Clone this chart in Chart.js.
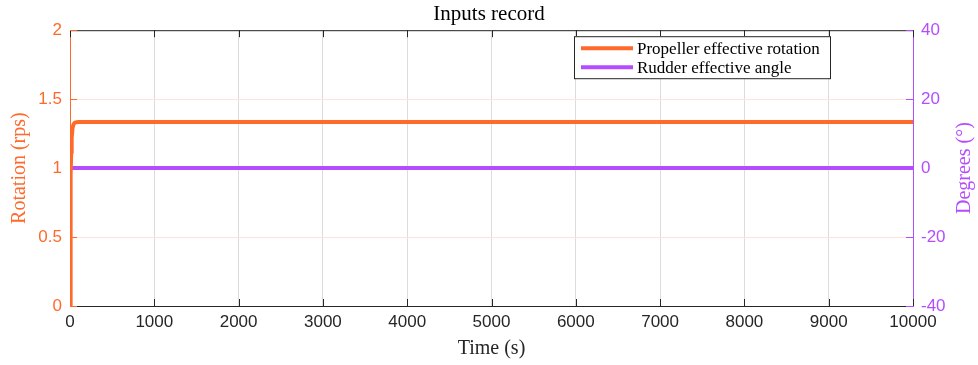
<!DOCTYPE html>
<html>
<head>
<meta charset="utf-8">
<script src="https://cdn.jsdelivr.net/npm/chart.js@4"></script>
<style>
  html, body { margin: 0; padding: 0; background: #fff; }
  #wrap { width: 978px; height: 365px; }
</style>
</head>
<body>
<div id="wrap"><canvas id="inputsChart"></canvas></div>
<script>
// data
const timeSec = [0, 5, 10, 15, 20, 30, 40, 50, 60, 80, 100, 500, 1000, 5000, 10000];
const propRotation = [0, 0.6, 0.95, 1.12, 1.22, 1.29, 1.315, 1.325, 1.33, 1.333, 1.334, 1.334, 1.334, 1.334, 1.334];
const rudderAngle = [0, 0, 0, 0, 0, 0, 0, 0, 0, 0, 0, 0, 0, 0, 0];
const seriesNames = ["Propeller effective rotation", "Rudder effective angle"];

const orange = "#FF6A2B";
const purple = "#B44CFF";
const tickGray = "#262626";
const serif = "'Liberation Serif', 'DejaVu Serif', serif";
const sans = "'Liberation Sans', Arial, sans-serif";
const plainNum = v => String(v);

// matlab-ish inward ticks + top box line
const boxTicks = {
  id: "boxTicks",
  beforeDatasetsDraw(chart) {
    const ctx = chart.ctx;
    const a = chart.chartArea;
    const len = 7;
    ctx.save();
    ctx.lineWidth = 1;
    ctx.strokeStyle = tickGray;
    ctx.beginPath();
    ctx.moveTo(a.left, a.top + 0.5);
    ctx.lineTo(a.right, a.top + 0.5);
    chart.scales.x.ticks.forEach(t => {
      const px = Math.round(chart.scales.x.getPixelForValue(t.value)) + 0.5;
      ctx.moveTo(px, a.bottom);
      ctx.lineTo(px, a.bottom - len);
      ctx.moveTo(px, a.top);
      ctx.lineTo(px, a.top + len);
    });
    ctx.stroke();
    ctx.strokeStyle = orange;
    ctx.beginPath();
    chart.scales.y.ticks.forEach(t => {
      const py = Math.round(chart.scales.y.getPixelForValue(t.value)) + 0.5;
      ctx.moveTo(a.left, py);
      ctx.lineTo(a.left + len, py);
    });
    ctx.stroke();
    ctx.strokeStyle = purple;
    ctx.beginPath();
    chart.scales.y1.ticks.forEach(t => {
      const py = Math.round(chart.scales.y1.getPixelForValue(t.value)) + 0.5;
      ctx.moveTo(a.right, py);
      ctx.lineTo(a.right - len, py);
    });
    ctx.stroke();
    ctx.restore();
  }
};

// legend box inside the axes, plus the right label read bottom-to-top
const boxLegend = {
  id: "boxLegend",
  afterDraw(chart) {
    const ctx = chart.ctx;
    const a = chart.chartArea;
    const x0 = a.right - 339, y0 = a.top + 6, w = 256, h = 42;
    ctx.save();
    ctx.fillStyle = "#fff";
    ctx.fillRect(x0, y0, w, h);
    ctx.strokeStyle = "#262626";
    ctx.lineWidth = 1;
    ctx.strokeRect(x0 + 0.5, y0 + 0.5, w, h);
    ctx.font = "17px " + serif;
    ctx.textBaseline = "middle";
    chart.data.datasets.forEach((ds, i) => {
      const yy = y0 + 12 + i * 19;
      ctx.strokeStyle = ds.borderColor;
      ctx.lineWidth = 4;
      ctx.beginPath();
      ctx.moveTo(x0 + 7, yy);
      ctx.lineTo(x0 + 59, yy);
      ctx.stroke();
      ctx.fillStyle = "#000";
      ctx.fillText(ds.label, x0 + 63, yy + 1);
    });
    ctx.restore();

    ctx.save();
    ctx.translate(chart.width - 13, (a.top + a.bottom) / 2);
    ctx.rotate(-Math.PI / 2);
    ctx.font = "20px " + serif;
    ctx.fillStyle = purple;
    ctx.textAlign = "center";
    ctx.textBaseline = "middle";
    ctx.fillText("Degrees (°)", 0, 0);
    ctx.restore();
  }
};

new Chart(document.getElementById("inputsChart"), {
  type: "line",
  data: {
    datasets: [
      {
        label: seriesNames[0],
        data: timeSec.map((t, i) => ({ x: t, y: propRotation[i] })),
        borderColor: orange,
        backgroundColor: orange,
        borderWidth: 4,
        pointRadius: 0,
        tension: 0,
        yAxisID: "y",
      },
      {
        label: seriesNames[1],
        data: timeSec.map((t, i) => ({ x: t, y: rudderAngle[i] })),
        borderColor: purple,
        backgroundColor: purple,
        borderWidth: 4,
        pointRadius: 0,
        tension: 0,
        yAxisID: "y1",
      },
    ],
  },
  options: {
    responsive: true,
    maintainAspectRatio: false,
    animation: false,
    layout: { padding: 0 },
    plugins: {
      legend: { display: false },
      tooltip: { enabled: false },
      title: {
        display: true,
        text: "Inputs record",
        color: "#000",
        font: { family: serif, size: 21, weight: "normal" },
        padding: { top: 2, bottom: 3 },
      },
    },
    scales: {
      x: {
        type: "linear",
        min: 0,
        max: 10000,
        ticks: { stepSize: 1000, color: tickGray, font: { family: sans, size: 17 }, padding: 6, maxRotation: 0, callback: plainNum },
        grid: { color: "#dcdcdc", drawTicks: false },
        border: { color: tickGray, width: 1 },
        title: { display: true, text: "Time (s)", color: tickGray, font: { family: serif, size: 20 }, padding: { top: 0, bottom: 4 } },
        afterFit(s) { s.height = 59; },
      },
      y: {
        position: "left",
        min: 0,
        max: 2,
        ticks: { stepSize: 0.5, color: orange, font: { family: sans, size: 17 }, padding: 8, callback: plainNum },
        grid: { color: "#fde3d8", drawTicks: false },
        border: { color: orange, width: 1 },
        title: { display: true, text: "Rotation (rps)", color: orange, font: { family: serif, size: 20 }, padding: { top: 8, bottom: 0 } },
        afterFit(s) { s.width = 70; },
      },
      y1: {
        position: "right",
        min: -40,
        max: 40,
        ticks: { stepSize: 20, color: purple, font: { family: sans, size: 17 }, padding: 8, callback: plainNum },
        grid: { drawOnChartArea: false, drawTicks: false },
        border: { color: purple, width: 1 },
        afterFit(s) { s.width = 65; },
      },
    },
  },
  plugins: [boxTicks, boxLegend],
});
</script>
</body>
</html>
